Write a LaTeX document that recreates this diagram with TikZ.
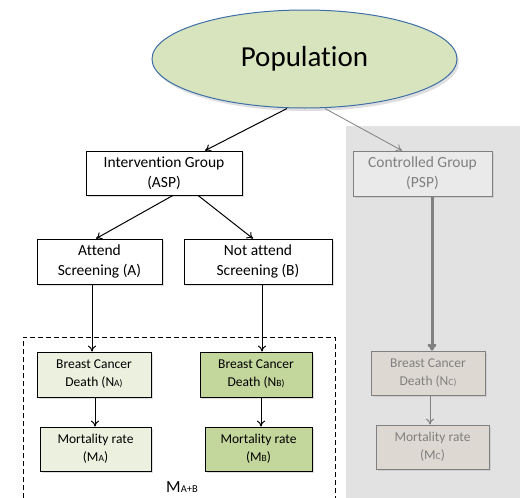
\documentclass[tikz,border=0pt]{standalone}
\usepackage{fontspec}
\setmainfont{Carlito}[Ligatures=NoCommon]
\usetikzlibrary{arrows.meta,shapes.geometric,shadows}
\definecolor{ellfill}{HTML}{D7E4BD}
\definecolor{elldraw}{HTML}{3F6FA8}
\definecolor{bggray}{HTML}{E2E2E2}
\definecolor{lightgreen}{HTML}{EBF1DE}
\definecolor{midgreen}{HTML}{C3D69B}
\definecolor{ctrlfill}{HTML}{EAEAEA}
\definecolor{ctrltext}{HTML}{808080}
\definecolor{tanfill}{HTML}{DDD8D2}
\begin{document}
\begin{tikzpicture}[x=1pt,y=-1pt,
  box/.style={draw=black,line width=0.8pt,fill=white,align=center,inner sep=0pt,
    drop shadow={shadow xshift=2pt,shadow yshift=-2pt,opacity=0.25}},
  gbox/.style={draw=ctrltext,line width=0.8pt,align=center,inner sep=0pt,text=ctrltext,
    drop shadow={shadow xshift=2pt,shadow yshift=-2pt,opacity=0.2}},
  arr/.style={-{To[length=6pt,width=8pt]},line width=1pt},
  garr/.style={-{To[length=6pt,width=8pt]},line width=1pt,draw=ctrltext},
  big/.style={font=\fontsize{15.5}{20}\selectfont},
  small/.style={font=\fontsize{13.5}{18}\selectfont}
]
\useasboundingbox (0,0) rectangle (520,498);
% gray background
\fill[bggray] (346,126) rectangle (520,498);
% dashed region
\draw[line width=1pt,dash pattern=on 5pt off 3pt] (23,498) -- (23,337) -- (335,337) -- (335,498);
% nodes
\node[ellipse,draw=elldraw,line width=1pt,fill=ellfill,minimum width=305pt,minimum height=98pt,
  font=\fontsize{29}{34}\selectfont,drop shadow={shadow xshift=2pt,shadow yshift=-3pt,opacity=0.25}] (pop) at (304.5,59) {Population};
\node[box,big,minimum width=156pt,minimum height=44pt] (ig) at (164,173) {Intervention Group\\(ASP)};
\node[gbox,big,fill=ctrlfill,minimum width=139pt,minimum height=45pt] (cg) at (422.5,173.5) {Controlled Group\\(PSP)};
\node[box,big,minimum width=125pt,minimum height=45pt] (at) at (99.5,261.5) {Attend\\Screening (A)};
\node[box,big,minimum width=148pt,minimum height=45pt] (nat) at (258,261.5) {Not attend\\Screening (B)};
\node[box,small,fill=lightgreen,minimum width=114pt,minimum height=45pt] (na) at (94,374.5) {Breast Cancer\\Death (N{\fontsize{9.5}{10}\selectfont A)}};
\node[box,small,fill=midgreen,minimum width=112pt,minimum height=45pt] (nb) at (256,374.5) {Breast Cancer\\Death (N{\fontsize{9.5}{10}\selectfont B)}};
\node[box,small,fill=lightgreen,minimum width=111pt,minimum height=44pt] (ma) at (95.5,449) {Mortality rate\\(M{\fontsize{9.5}{10}\selectfont A})};
\node[box,small,fill=midgreen,minimum width=107pt,minimum height=44pt] (mb) at (258.5,449) {Mortality rate\\(M{\fontsize{9.5}{10}\selectfont B})};
\node[gbox,small,fill=tanfill,minimum width=114pt,minimum height=44pt] (nc) at (428,373) {Breast Cancer\\Death (N{\fontsize{9.5}{10}\selectfont C)}};
\node[gbox,small,fill=tanfill,minimum width=113pt,minimum height=44pt] (mc) at (432.5,447) {Mortality rate\\(M{\fontsize{9.5}{10}\selectfont C})};
\node[font=\fontsize{17}{18}\selectfont,inner sep=0pt] (mab) at (182,487) {M{\fontsize{10.5}{11}\selectfont A+B}};
% connectors
\draw[arr] (pop.south -| 287,0) -- (ig.north -| 205,0);
\draw[garr,line width=0.8pt] (pop.south -| 325,0) -- (cg.north -| 402,0);
\draw[arr] (ig.south -| 173,0) -- (at.north -| 96,0);
\draw[arr] (ig.south -| 198,0) -- (nat.north -| 253,0);
\draw[arr] (at.south -| 92,0) -- (na.north -| 92,0);
\draw[arr] (nat.south -| 262,0) -- (nb.north -| 262,0);
\draw[arr] (na.south -| 95,0) -- (ma.north -| 95,0);
\draw[arr] (nb.south -| 261,0) -- (mb.north -| 261,0);
\draw[garr,line width=3pt,-{To[length=7pt,width=9pt]}] (cg.south -| 432,0) -- (nc.north -| 432,0);
\draw[garr] (nc.south -| 430,0) -- (mc.north -| 430,0);
\end{tikzpicture}
\end{document}
